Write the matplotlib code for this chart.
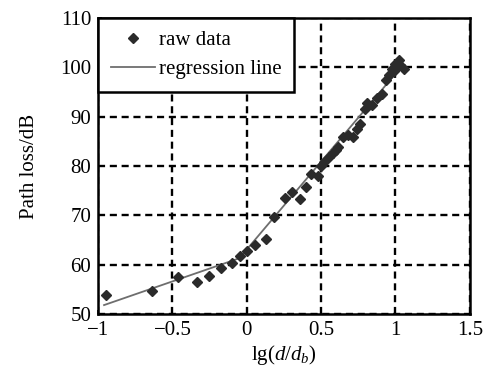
import matplotlib
matplotlib.use("Agg")
import matplotlib.pyplot as plt

lg_d = [-0.944, -0.638, -0.46, -0.333, -0.251, -0.171, -0.10, -0.044, 0.0,
        0.056, 0.127, 0.184, 0.256, 0.307, 0.36, 0.40, 0.433, 0.478, 0.50,
        0.522, 0.556, 0.578, 0.60, 0.616, 0.644, 0.678, 0.711, 0.744, 0.762,
        0.793, 0.811, 0.844, 0.878, 0.911, 0.933, 0.956, 0.978, 0.989, 1.0,
        1.011, 1.022, 1.033, 1.056]
path_loss = [53.9, 54.6, 57.4, 56.4, 57.6, 59.3, 60.3, 61.8, 62.7,
             64.0, 65.2, 69.6, 73.5, 74.8, 73.3, 75.8, 78.4, 78.0, 79.9,
             80.9, 81.9, 82.6, 83.2, 83.9, 85.9, 86.3, 85.9, 87.6, 88.6,
             91.6, 92.7, 92.3, 93.7, 94.7, 97.4, 98.4, 99.7, 99.3, 100.7,
             100.1, 101.4, 100.4, 99.7]

# 回归线 (分段)
reg_x = [-0.96, -0.05, 1.05]
reg_y = [51.8, 61.3, 100.5]

x_ticks = [-1, -0.5, 0, 0.5, 1, 1.5]
y_ticks = [50, 60, 70, 80, 90, 100, 110]

plt.rcParams['font.family'] = ['Liberation Serif', 'DejaVu Serif']
plt.rcParams['mathtext.fontset'] = 'custom'
plt.rcParams['mathtext.rm'] = 'Liberation Serif'
plt.rcParams['mathtext.it'] = 'Liberation Serif:italic'

fig = plt.figure(figsize=(4.93, 3.76), dpi=100)
ax = fig.add_axes([0.199, 0.165, 0.754, 0.787])

ax.plot(lg_d, path_loss, linestyle='none', marker='D', markersize=5.5,
        color='#2b2b2b', label='raw data', zorder=4)
ax.plot(reg_x, reg_y, color='#6e6e6e', linewidth=1.3, label='regression line', zorder=3)

ax.set_xlim(-1, 1.5)
ax.set_ylim(50, 110)
ax.set_xticks(x_ticks)
ax.set_xticklabels(['\u22121', '\u22120.5', '0', '0.5', '1', '1.5'])
ax.set_yticks(y_ticks)
ax.tick_params(direction='in', length=3, width=1.2, labelsize=15, pad=5)

ax.grid(True, color='black', linestyle=(0, (3, 2)), linewidth=1.7)
for sp in ax.spines.values():
    sp.set_linewidth(1.8)

ax.set_xlabel(r'lg($\mathit{d}$/$\mathit{d}_b$)', fontsize=15, labelpad=2)
ax.set_ylabel('Path loss/dB', fontsize=15, labelpad=15)

leg = ax.legend(loc='upper left', fontsize=15, frameon=True, fancybox=False,
                borderaxespad=0, handlelength=2.15, handletextpad=0.15,
                borderpad=0.6, labelspacing=0.45)
leg.get_frame().set_edgecolor('black')
leg.get_frame().set_linewidth(1.8)
leg.get_frame().set_alpha(1)

fig.savefig('out.png', dpi=100)
